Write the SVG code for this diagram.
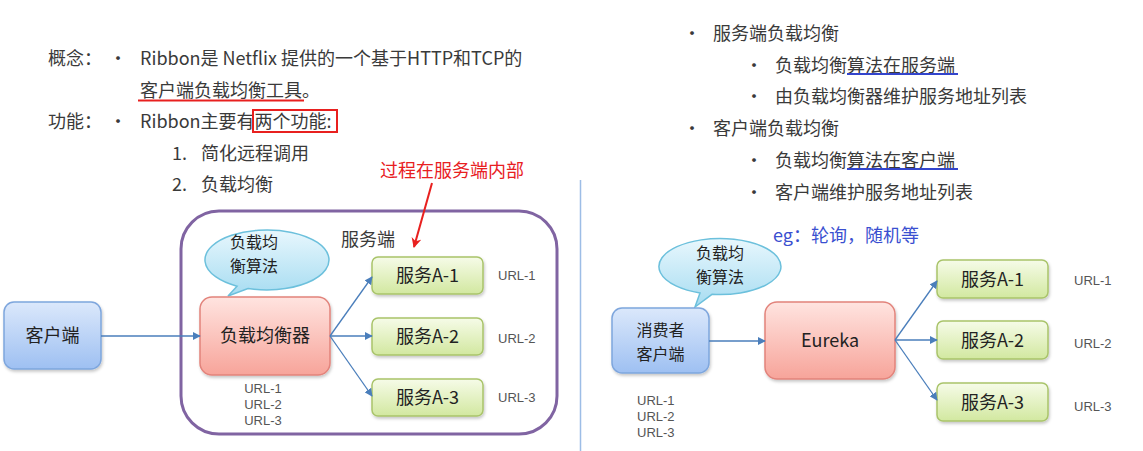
<svg xmlns="http://www.w3.org/2000/svg" width="1143" height="451" viewBox="0 0 1143 451">
<defs>
<linearGradient id="gBlue" x1="0" y1="0" x2="0" y2="1"><stop offset="0" stop-color="#dbe8fb"/><stop offset="1" stop-color="#9ec0f2"/></linearGradient>
<linearGradient id="gPink" x1="0" y1="0" x2="0" y2="1"><stop offset="0" stop-color="#ffe4e0"/><stop offset="1" stop-color="#f7a49a"/></linearGradient>
<linearGradient id="gGreen" x1="0" y1="0" x2="0" y2="1"><stop offset="0" stop-color="#f6fbe8"/><stop offset="1" stop-color="#d2e8a0"/></linearGradient>
<linearGradient id="gBubble" x1="0" y1="0" x2="0" y2="1"><stop offset="0" stop-color="#e8f7fd"/><stop offset="1" stop-color="#a6dcf1"/></linearGradient>
<filter id="sh" x="-10%" y="-10%" width="125%" height="135%"><feDropShadow dx="1" dy="2" stdDeviation="1.5" flood-color="#000" flood-opacity="0.22"/></filter>
<marker id="ab" viewBox="0 0 10 10" refX="9" refY="5" markerWidth="8" markerHeight="8" orient="auto" markerUnits="userSpaceOnUse"><path d="M0,0 L10,5 L0,10 Z" fill="#4a7ebb"/></marker>
<marker id="ar" viewBox="0 0 10 10" refX="9" refY="5" markerWidth="10" markerHeight="10" orient="auto" markerUnits="userSpaceOnUse"><path d="M0,0 L10,5 L0,10 L3,5 Z" fill="#e8201f"/></marker>
</defs>
<style>
.t{font-family:"Noto Sans CJK SC","Noto Sans",sans-serif;font-size:18px;fill:#3a3a3a}
.n{font-family:"Noto Sans CJK SC","Noto Sans",sans-serif;font-size:18px;fill:#222}
.m{font-family:"Noto Sans CJK SC","Noto Sans",sans-serif;font-size:16px;fill:#222}
.u{font-family:"Liberation Sans",Arial,sans-serif;font-size:13px;fill:#555}
.c{text-anchor:middle}
.blue{fill:url(#gBlue);stroke:#7ea6dd;stroke-width:1.5}
.pink{fill:url(#gPink);stroke:#e2837b;stroke-width:1.5}
.green{fill:url(#gGreen);stroke:#a9c46a;stroke-width:1.5}
.bub{fill:url(#gBubble);stroke:#6cc0dc;stroke-width:1.5}
.ln{stroke:#4a7ebb;stroke-width:1.3;fill:none;marker-end:url(#ab)}
</style>
<rect width="1143" height="451" fill="#fff"/>

<g id="left-text">
<text class="t" x="48" y="65">概念：</text><text class="t" x="109" y="65">•</text>
<text class="t" x="140" y="65">Ribbon是 Netflix 提供的一个基于HTTP和TCP的</text>
<text class="t" x="140" y="97">客户端负载均衡工具。</text>
<line x1="138" y1="100.5" x2="304" y2="100.5" stroke="#e8201f" stroke-width="2"/>
<text class="t" x="48" y="128">功能：</text><text class="t" x="109" y="128">•</text>
<text class="t" x="140" y="128">Ribbon主要有两个功能:</text>
<rect x="253" y="110" width="84" height="22" fill="none" stroke="#e8201f" stroke-width="2"/>
<text class="t" x="172" y="160">1.</text><text class="t" x="201" y="160">简化远程调用</text>
<text class="t" x="172" y="191">2.</text><text class="t" x="201" y="191">负载均衡</text>
<text class="t" x="380" y="177" style="fill:#e8201f">过程在服务端内部</text>
</g>

<g id="server-container">
<rect x="181" y="211" width="376" height="223" rx="38" fill="none" stroke="#8064a2" stroke-width="3"/>
<text class="t" x="341" y="246">服务端</text>
</g>

<g id="left-bubble">
<path class="bub" d="M237,286.2 L228,296 L248,288.5 A62,30 0 1 0 237,286.2 Z"/>
<text class="m c"><tspan x="254" y="248">负载均</tspan><tspan x="254" y="272">衡算法</tspan></text>
</g>

<g id="client">
<rect class="blue" x="4" y="302" width="97" height="67" rx="10" filter="url(#sh)"/>
<text class="n c" x="52.5" y="342">客户端</text>
</g>

<g id="lb">
<rect class="pink" x="200" y="297" width="130" height="78" rx="12" filter="url(#sh)"/>
<text class="n c" x="265" y="342">负载均衡器</text>
<text class="u c"><tspan x="263" y="393">URL-1</tspan><tspan x="263" y="409">URL-2</tspan><tspan x="263" y="425">URL-3</tspan></text>
</g>

<g id="svcL1"><rect class="green" x="372" y="257" width="111" height="37" rx="6" filter="url(#sh)"/><text class="n c" x="427.5" y="282">服务A-1</text><text class="u" x="498" y="280">URL-1</text></g>
<g id="svcL2"><rect class="green" x="372" y="318" width="111" height="37" rx="6" filter="url(#sh)"/><text class="n c" x="427.5" y="343">服务A-2</text><text class="u" x="498" y="343">URL-2</text></g>
<g id="svcL3"><rect class="green" x="372" y="379" width="111" height="37" rx="6" filter="url(#sh)"/><text class="n c" x="427.5" y="404">服务A-3</text><text class="u" x="498" y="402">URL-3</text></g>

<line x1="580.5" y1="180" x2="580.5" y2="451" stroke="#9dbde6" stroke-width="1.5"/>

<g id="right-text">
<text class="t" x="683" y="40">•</text><text class="t" x="713" y="40">服务端负载均衡</text>
<text class="t" x="745" y="72">•</text><text class="t" x="775" y="72">负载均衡算法在服务端</text>
<line x1="847" y1="74" x2="958" y2="74" stroke="#3344cc" stroke-width="2"/>
<text class="t" x="745" y="103">•</text><text class="t" x="775" y="103">由负载均衡器维护服务地址列表</text>
<text class="t" x="683" y="135">•</text><text class="t" x="713" y="135">客户端负载均衡</text>
<text class="t" x="745" y="167">•</text><text class="t" x="775" y="167">负载均衡算法在客户端</text>
<line x1="847" y1="169" x2="958" y2="169" stroke="#3344cc" stroke-width="2"/>
<text class="t" x="745" y="199">•</text><text class="t" x="775" y="199">客户端维护服务地址列表</text>
<text class="t" x="773" y="242" style="fill:#3a4fd0">eg：轮询，随机等</text>
</g>

<g id="right-bubble">
<path class="bub" d="M700,293 L695,307 L712,294.3 A61,28 0 1 0 700,293 Z"/>
<text class="m c"><tspan x="720" y="259">负载均</tspan><tspan x="720" y="283">衡算法</tspan></text>
</g>

<g id="consumer">
<rect class="blue" x="612" y="308" width="97" height="65" rx="10" filter="url(#sh)"/>
<text class="m c"><tspan x="660.5" y="336">消费者</tspan><tspan x="660.5" y="360">客户端</tspan></text>
<text class="u"><tspan x="637" y="405">URL-1</tspan><tspan x="637" y="421">URL-2</tspan><tspan x="637" y="437">URL-3</tspan></text>
</g>

<g id="eureka">
<rect class="pink" x="765" y="302" width="130" height="77" rx="12" filter="url(#sh)"/>
<text class="n c" x="830" y="347">Eureka</text>
</g>

<g id="svcR1"><rect class="green" x="937" y="260" width="111" height="38" rx="6" filter="url(#sh)"/><text class="n c" x="992.5" y="286">服务A-1</text><text class="u" x="1074" y="285">URL-1</text></g>
<g id="svcR2"><rect class="green" x="937" y="321" width="111" height="38" rx="6" filter="url(#sh)"/><text class="n c" x="992.5" y="347">服务A-2</text><text class="u" x="1074" y="348">URL-2</text></g>
<g id="svcR3"><rect class="green" x="937" y="383" width="111" height="38" rx="6" filter="url(#sh)"/><text class="n c" x="992.5" y="409">服务A-3</text><text class="u" x="1074" y="411">URL-3</text></g>

<g id="connectors">
<line class="ln" x1="101" y1="336" x2="200" y2="336"/>
<line class="ln" x1="330" y1="336" x2="372" y2="277"/>
<line class="ln" x1="330" y1="336" x2="372" y2="336"/>
<line class="ln" x1="330" y1="336" x2="372" y2="396"/>
<line class="ln" x1="709" y1="341" x2="765" y2="341"/>
<line class="ln" x1="895" y1="340" x2="937" y2="281"/>
<line class="ln" x1="895" y1="340" x2="937" y2="340"/>
<line class="ln" x1="895" y1="340" x2="937" y2="400"/>
<line x1="432" y1="183" x2="414" y2="247" stroke="#e8201f" stroke-width="2" marker-end="url(#ar)"/>
</g>
</svg>
